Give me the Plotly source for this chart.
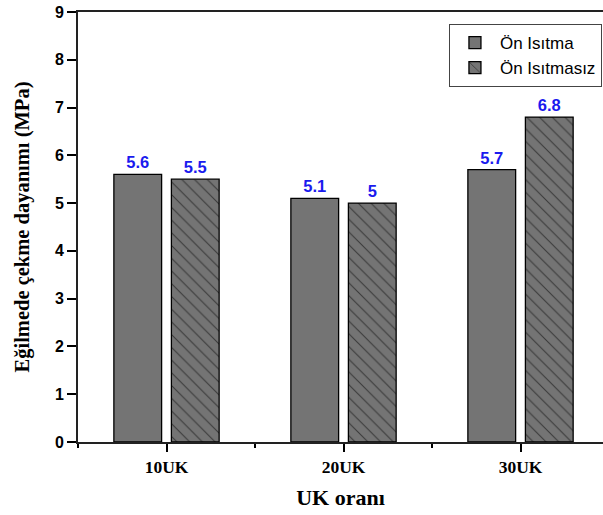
import plotly.graph_objects as go

categories = ["10UK", "20UK", "30UK"]
on_isitma = [5.6, 5.1, 5.7]
on_isitmasiz = [5.5, 5.0, 6.8]
labels_isitma = ["5.6", "5.1", "5.7"]
labels_isitmasiz = ["5.5", "5", "6.8"]
y_ticks = [0, 1, 2, 3, 4, 5, 6, 7, 8, 9]

xpos = list(range(len(categories)))
bar_color = "#747474"
label_font = dict(family="Liberation Sans, Arial", size=16.5, color="#1a1aee", weight="bold")

fig = go.Figure()
fig.add_trace(go.Bar(
    x=xpos, y=on_isitma, name="Ön Isıtma",
    marker=dict(color=bar_color, line=dict(color="black", width=1.3)),
    text=labels_isitma, textposition="outside", textfont=label_font,
    cliponaxis=False,
))
fig.add_trace(go.Bar(
    x=xpos, y=on_isitmasiz, name="Ön Isıtmasız",
    marker=dict(color=bar_color, line=dict(color="black", width=1.3),
                pattern=dict(shape="\\", bgcolor=bar_color, fgcolor="black",
                             size=9, solidity=0.12, fillmode="overlay")),
    text=labels_isitmasiz, textposition="outside", textfont=label_font,
    cliponaxis=False,
))

fig.update_layout(
    width=603, height=515,
    margin=dict(l=78, r=0, t=12, b=73),
    paper_bgcolor="white", plot_bgcolor="white",
    barmode="group", bargap=0.35, bargroupgap=0.17,
    showlegend=True,
    legend=dict(x=0.998, y=0.972, xanchor="right", yanchor="top",
                bordercolor="#444", borderwidth=1, bgcolor="white",
                font=dict(family="Liberation Sans, Arial", size=17, color="black"),
                tracegroupgap=0, itemwidth=40),
    font=dict(family="Liberation Sans, Arial", color="black"),
)

fig.update_xaxes(
    range=[-0.5, 2.466],
    tickvals=xpos, ticktext=categories,
    tickfont=dict(family="Liberation Serif, Times New Roman", size=17.5, color="black", weight="bold"),
    ticks="outside", ticklen=8, tickwidth=1.5, tickcolor="black",
    minor=dict(tick0=0.5, dtick=1, ticks="outside", ticklen=4, tickwidth=1.5, tickcolor="black"),
    showline=True, linecolor="#222", linewidth=2, mirror=True,
    showgrid=False, zeroline=False,
    title=dict(text="UK oranı", standoff=14,
               font=dict(family="Liberation Serif, Times New Roman", size=22, color="black", weight="bold")),
)

fig.update_yaxes(
    range=[0, 9], tickvals=y_ticks,
    tickfont=dict(family="Liberation Sans, Arial", size=16, color="black", weight="bold"),
    ticks="outside", ticklen=9, tickwidth=1.5, tickcolor="black",
    ticklabeloverflow="allow",
    showline=True, linecolor="#222", linewidth=2, mirror=False,
    showgrid=False, zeroline=False,
    title=dict(text="Eğilmede çekme dayanımı (MPa)", standoff=20,
               font=dict(family="Liberation Serif, Times New Roman", size=20.5, color="black", weight="bold")),
)

fig.write_html("out.html", config={"displayModeBar": False},
               post_script="document.body.style.margin='0';")
